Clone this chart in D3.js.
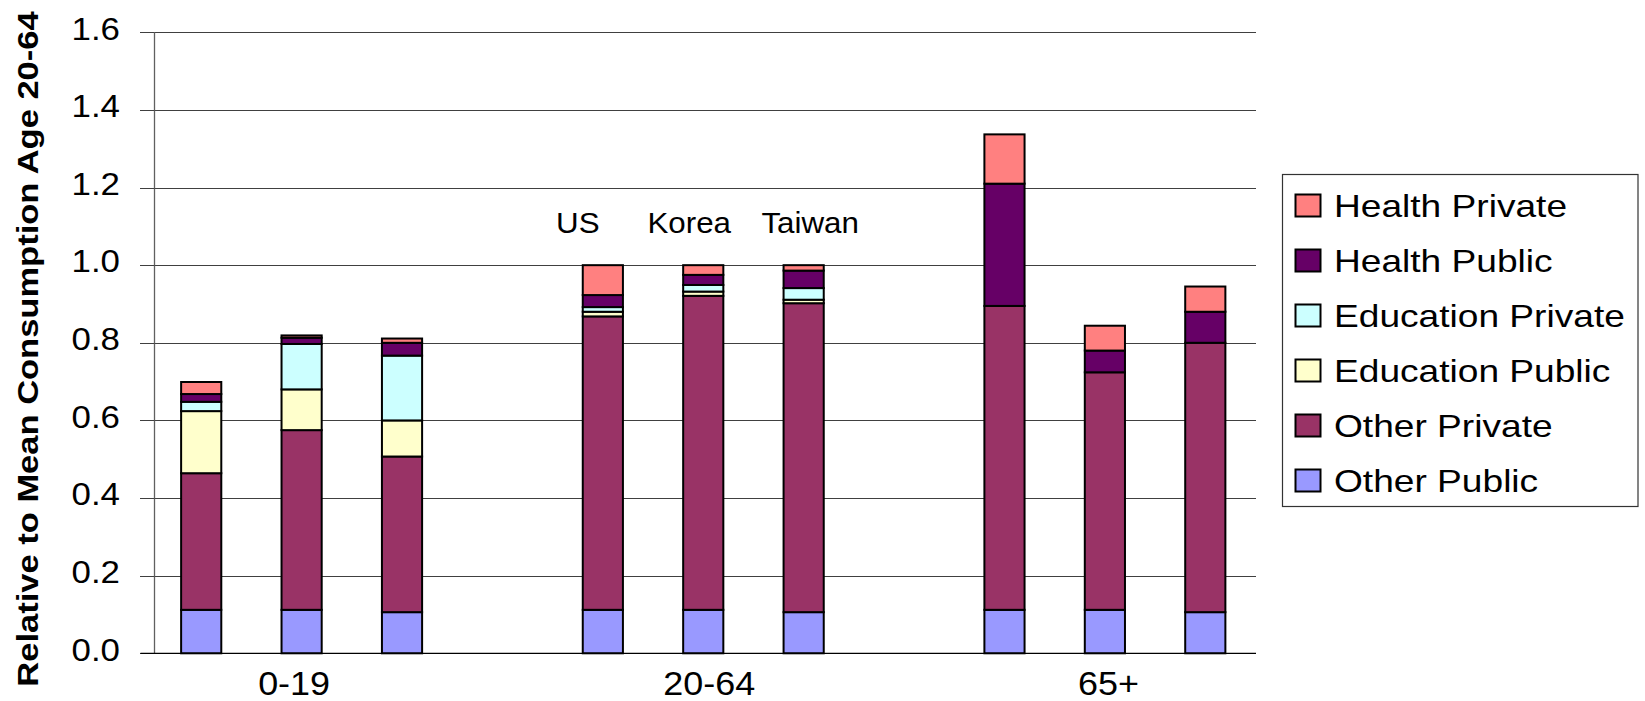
<!DOCTYPE html>
<html>
<head>
<meta charset="utf-8">
<script src="https://cdn.jsdelivr.net/npm/d3@7"></script>
<style>
  html, body { margin: 0; padding: 0; background: #fff; }
  svg { display: block; }
  text { font-family: "Liberation Sans", Arial, sans-serif; fill: #000; }
</style>
</head>
<body>
<svg id="chart" width="1645" height="701"></svg>
<script>
// ---- data ----
const ageGroups = ["0-19", "20-64", "65+"];
const countries = ["US", "Korea", "Taiwan"];
// bars in order: 0-19 (US, Korea, Taiwan), 20-64 (US, Korea, Taiwan), 65+ (US, Korea, Taiwan)
const otherPublic     = [0.112, 0.112, 0.106, 0.112, 0.112, 0.106, 0.112, 0.112, 0.106];
const otherPrivate    = [0.352, 0.463, 0.401, 0.756, 0.809, 0.796, 0.783, 0.612, 0.694];
const educationPublic = [0.160, 0.105, 0.093, 0.012, 0.011, 0.009, 0.000, 0.000, 0.000];
const educationPrivate= [0.024, 0.117, 0.167, 0.012, 0.017, 0.030, 0.000, 0.000, 0.000];
const healthPublic    = [0.020, 0.016, 0.033, 0.031, 0.026, 0.045, 0.315, 0.056, 0.080];
const healthPrivate   = [0.031, 0.006, 0.011, 0.077, 0.025, 0.014, 0.127, 0.064, 0.065];
const seriesNames = ["Other Public", "Other Private", "Education Public", "Education Private", "Health Public", "Health Private"];
const seriesColors = ["#9999FF", "#993366", "#FFFFCC", "#CCFFFF", "#660066", "#FF8080"];
const yTicks = [0, 0.2, 0.4, 0.6, 0.8, 1.0, 1.2, 1.4, 1.6];
const yTitle = "Relative to Mean Consumption Age 20-64";

// ---- build ----
const seriesValues = [otherPublic, otherPrivate, educationPublic, educationPrivate, healthPublic, healthPrivate];
const bars = [];
ageGroups.forEach((g, gi) => countries.forEach((c, ci) => {
  const i = gi * 3 + ci;
  const row = { key: g + "|" + c, group: g, country: c };
  seriesNames.forEach((s, si) => row[s] = seriesValues[si][i]);
  bars.push(row);
}));
// slots: three bars per group, one empty slot between groups
const slots = [];
ageGroups.forEach((g, gi) => {
  countries.forEach(c => slots.push(g + "|" + c));
  if (gi < ageGroups.length - 1) slots.push("gap" + gi);
});

const svg = d3.select("#chart");
const x = d3.scaleBand().domain(slots).range([151, 1255.5]).padding(0);
const y = d3.scaleLinear().domain([0, 1.6]).range([653.3, 32.3]);
const barW = x.bandwidth() * 0.4;
const barX = k => x(k) + (x.bandwidth() - barW) / 2;
const plotLeft = 154.5, plotRight = 1256;

// gridlines
svg.append("g").selectAll("line").data(yTicks.filter(t => t > 0)).join("line")
  .attr("x1", plotLeft).attr("x2", plotRight)
  .attr("y1", d => Math.round(y(d)) + 0.5).attr("y2", d => Math.round(y(d)) + 0.5)
  .attr("stroke", "#404040").attr("stroke-width", 1);

// y axis line and ticks
svg.append("line").attr("x1", plotLeft).attr("x2", plotLeft)
  .attr("y1", y(1.6)).attr("y2", y(0)).attr("stroke", "#606060").attr("stroke-width", 1.3);
svg.append("g").selectAll("line").data(yTicks).join("line")
  .attr("x1", 140).attr("x2", plotLeft)
  .attr("y1", d => Math.round(y(d)) + 0.5).attr("y2", d => Math.round(y(d)) + 0.5)
  .attr("stroke", "#404040").attr("stroke-width", 1);
svg.append("g").selectAll("text").data(yTicks).join("text")
  .attr("text-anchor", "end")
  .attr("font-size", 32)
  .attr("transform", d => `translate(120,${y(d) + 7.3}) scale(1.09,1)`)
  .text(d3.format(".1f"));

// stacked bars
const stack = d3.stack().keys(seriesNames)(bars);
const gBars = svg.append("g");
stack.forEach((layer, si) => {
  gBars.append("g").selectAll("rect").data(layer.filter(d => d[1] - d[0] > 0)).join("rect")
    .attr("x", d => barX(d.data.key))
    .attr("width", barW)
    .attr("y", d => y(d[1]))
    .attr("height", d => y(d[0]) - y(d[1]))
    .attr("fill", seriesColors[si])
    .attr("stroke", "#000").attr("stroke-width", 2);
});

// x axis baseline
svg.append("line").attr("x1", plotLeft - 14).attr("x2", plotRight)
  .attr("y1", y(0)).attr("y2", y(0)).attr("stroke", "#000").attr("stroke-width", 1.3);

// category labels (centred on middle bar of each group)
const labelDx = [-7.5, 6, 3.5];
svg.append("g").selectAll("text").data(ageGroups).join("text")
  .attr("text-anchor", "middle").attr("font-size", 33)
  .attr("transform", (g, i) => `translate(${x(g + "|" + countries[1]) + x.bandwidth() / 2 + labelDx[i]},695) scale(1.09,1)`)
  .text(d => d);

// country annotations over the 20-64 group
const annDx = [-25, -14, 6.5];
svg.append("g").selectAll("text").data(countries).join("text")
  .attr("text-anchor", "middle").attr("font-size", 29)
  .attr("transform", (c, i) => `translate(${x(ageGroups[1] + "|" + c) + x.bandwidth() / 2 + annDx[i]},232.5) scale(1.08,1)`)
  .text(d => d);

// y title
svg.append("text")
  .attr("text-anchor", "middle").attr("font-size", 29).attr("font-weight", "bold")
  .attr("transform", "translate(37.5,349) rotate(-90) scale(1.19,1)")
  .text(yTitle);

// legend
const legend = svg.append("g");
legend.append("rect").attr("x", 1282.5).attr("y", 174.5).attr("width", 355.5).attr("height", 332)
  .attr("fill", "#fff").attr("stroke", "#333").attr("stroke-width", 1.2);
const legItems = seriesNames.map((n, i) => ({ name: n, color: seriesColors[i] })).reverse();
const li = legend.selectAll("g.item").data(legItems).join("g").attr("class", "item")
  .attr("transform", (d, i) => `translate(0,${i * 55})`);
li.append("rect").attr("x", 1295.5).attr("y", 194.5).attr("width", 25).attr("height", 22)
  .attr("fill", d => d.color).attr("stroke", "#000").attr("stroke-width", 2);
li.append("text").attr("font-size", 32)
  .attr("transform", "translate(1334,216.7) scale(1.16,1)")
  .text(d => d.name);
</script>
</body>
</html>
